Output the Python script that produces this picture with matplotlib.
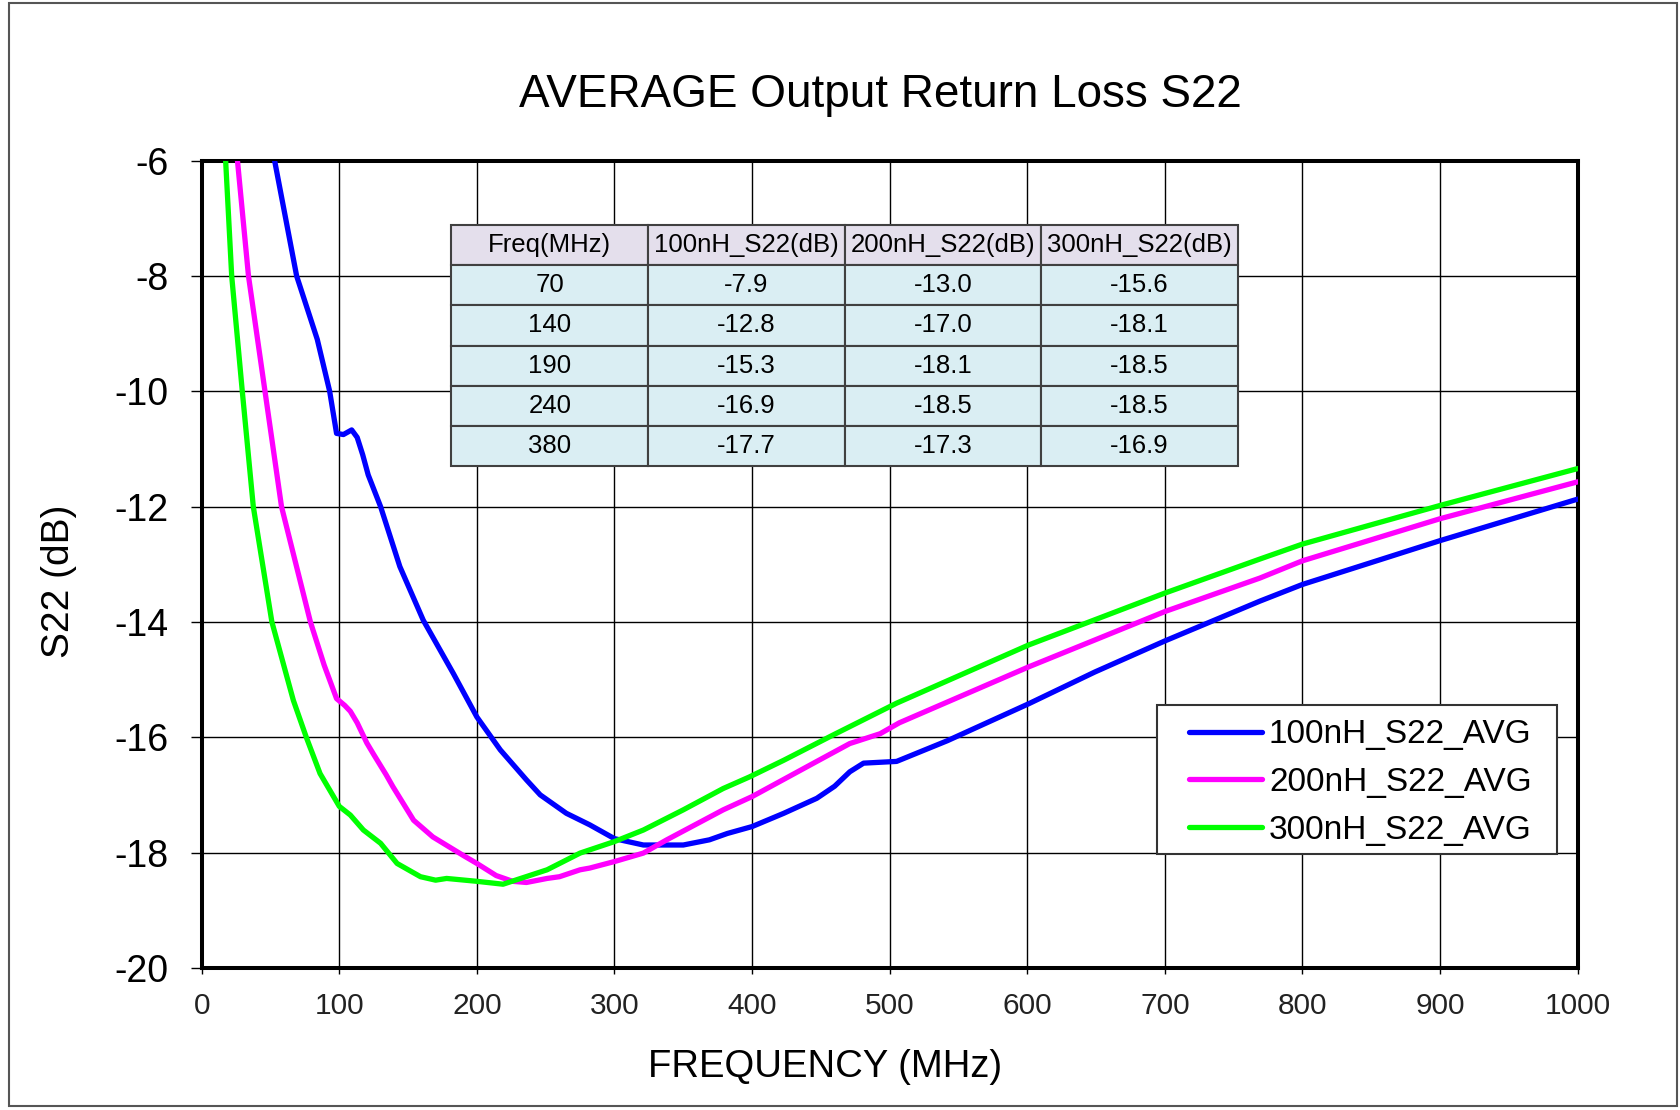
import matplotlib
matplotlib.use("Agg")
import matplotlib.pyplot as plt
from matplotlib.patches import Rectangle

plt.rcParams['font.family'] = ['Liberation Sans', 'DejaVu Sans']
plt.rcParams['axes.unicode_minus'] = False

# curvas (MHz, dB)
freq_100 = [53, 69, 84, 93, 98, 103, 109, 113, 117, 121, 130, 144, 161, 183, 200,
            217, 236, 246, 265, 282, 300, 321, 350, 369, 382, 400, 423, 447, 460, 471,
            481, 505, 542, 601, 649, 700, 769, 800, 900, 1000]
s22_100 = [-6.0, -8.0, -9.1, -10.0, -10.73, -10.75, -10.67, -10.8, -11.1, -11.45,
           -12.0, -13.04, -13.97, -14.9, -15.65, -16.22, -16.74, -17.0, -17.32, -17.52,
           -17.76, -17.87, -17.87, -17.78, -17.67, -17.55, -17.32, -17.06, -16.85, -16.6,
           -16.45, -16.42, -16.06, -15.42, -14.87, -14.33, -13.64, -13.35, -12.59, -11.87]

freq_200 = [26, 34, 46, 58, 79, 89, 98, 104, 108, 113, 120, 125, 134, 139, 154, 168,
            190, 200, 214, 226, 236, 251, 260, 275, 282, 301, 321, 338, 379, 400, 447,
            471, 493, 507, 601, 700, 769, 800, 900, 1000]
s22_200 = [-6.0, -8.0, -10.0, -12.0, -14.0, -14.75, -15.33, -15.45, -15.55, -15.75,
           -16.1, -16.3, -16.65, -16.86, -17.44, -17.73, -18.05, -18.19, -18.4, -18.5,
           -18.52, -18.45, -18.42, -18.3, -18.27, -18.15, -18.01, -17.78, -17.26, -17.03,
           -16.42, -16.11, -15.94, -15.75, -14.78, -13.82, -13.24, -12.94, -12.21, -11.57]

freq_300 = [17.4, 21.8, 29.5, 37.5, 51, 66.6, 76, 86, 100, 108, 117.5, 130, 142, 159,
            170, 178, 200, 219, 251, 275, 300, 321, 350, 379, 398, 423, 459, 505, 601,
            700, 769, 800, 900, 1000]
s22_300 = [-6.0, -8.0, -10.0, -12.0, -14.0, -15.36, -16.0, -16.63, -17.2, -17.35, -17.61,
           -17.84, -18.19, -18.42, -18.48, -18.45, -18.5, -18.55, -18.3, -18.01, -17.81,
           -17.61, -17.26, -16.89, -16.69, -16.4, -15.96, -15.41, -14.4, -13.5, -12.91,
           -12.65, -11.98, -11.34]

series_labels = ['100nH_S22_AVG', '200nH_S22_AVG', '300nH_S22_AVG']

# tabla
table_header = ['Freq(MHz)', '100nH_S22(dB)', '200nH_S22(dB)', '300nH_S22(dB)']
table_freq = ['70', '140', '190', '240', '380']
table_100 = ['-7.9', '-12.8', '-15.3', '-16.9', '-17.7']
table_200 = ['-13.0', '-17.0', '-18.1', '-18.5', '-17.3']
table_300 = ['-15.6', '-18.1', '-18.5', '-18.5', '-16.9']

W, H = 1681, 1110
fig = plt.figure(figsize=(W / 100, H / 100), dpi=100)
ax = fig.add_axes([201.7 / W, 1 - 967.8 / H, 1376 / W, 807.1 / H])

line_kw = dict(lw=3.8, zorder=3, solid_joinstyle='round', solid_capstyle='round')
ax.plot(freq_100, s22_100, color='#0000FF', label=series_labels[0], **line_kw)
ax.plot(freq_200, s22_200, color='#FF00FF', label=series_labels[1], **line_kw)
ax.plot(freq_300, s22_300, color='#00FF00', label=series_labels[2], **line_kw)

ax.set_xlim(0, 1000)
ax.set_ylim(-20, -6)
ax.set_xticks(range(0, 1001, 100))
ax.set_yticks(range(-20, -5, 2))
ax.set_axisbelow(True)
ax.grid(True, color='black', lw=1.0)
for sp in ax.spines.values():
    sp.set_linewidth(2.9)
ax.tick_params(axis='x', direction='out', length=4.5, width=1.0, pad=13, labelsize=21.5, labelcolor='#222222')
ax.tick_params(axis='y', direction='out', length=8, width=1.0, pad=16, labelsize=27)

# tabla sobre la grafica
rows = [list(r) for r in zip(table_freq, table_100, table_200, table_300)]
tbl = ax.table(cellText=rows, colLabels=table_header, cellLoc='center',
               bbox=[0.1815, 0.6217, 0.5716, 0.2986])
tbl.auto_set_font_size(False)
tbl.set_fontsize(18.5)
tbl.set_zorder(5)
for (r, c), cell in tbl.get_celld().items():
    cell.set_edgecolor('#404040')
    cell.set_linewidth(1.5)
    cell.set_facecolor('#E4DFEC' if r == 0 else '#DAEEF3')

# leyenda: marco dibujado aparte para respetar el tamaño del original
ax.add_patch(Rectangle((0.694, 0.1405), 0.2907, 0.1846, transform=ax.transAxes,
                       facecolor='white', edgecolor='#333333', lw=1.5, zorder=5))
leg = ax.legend(loc='center', bbox_to_anchor=(0.842, 0.2295), frameon=False,
                fontsize=24, handlelength=2.2, handletextpad=0.2, borderpad=0.3,
                labelspacing=0.5)
leg.set_zorder(6)

fig.text(880 / W, 1 - 95 / H, 'AVERAGE Output Return Loss S22', ha='center', va='center', fontsize=33)
fig.text(825.5 / W, 1 - 1067 / H, 'FREQUENCY (MHz)', ha='center', va='center', fontsize=27.5)
fig.text(59.3 / W, 1 - 581.7 / H, 'S22 (dB)', ha='center', va='center', rotation=90, fontsize=28)

fig.patches.append(Rectangle((9 / W, 1 - 1106 / H), (1677 - 9) / W, (1106 - 3) / H,
                             transform=fig.transFigure, fill=False, edgecolor='#555555', lw=1.5))

fig.savefig('out.png', dpi=100)
plt.close(fig)
